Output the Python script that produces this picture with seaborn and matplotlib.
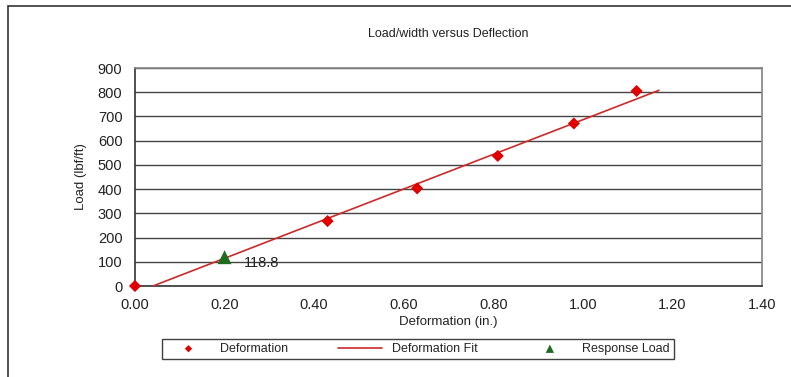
import matplotlib
matplotlib.use("Agg")
import matplotlib.pyplot as plt
import seaborn as sns
import pandas as pd
from matplotlib.patches import Rectangle

# Data
defo_x = [0.00, 0.43, 0.63, 0.81, 0.98, 1.12]
defo_y = [0, 268, 403, 537, 671, 805]
fit_x = [0.04, 1.17]
fit_y = [0, 808]
resp_x = [0.20]
resp_y = [118.8]
resp_label = "118.8"
x_ticks = [0.0, 0.2, 0.4, 0.6, 0.8, 1.0, 1.2, 1.4]
y_ticks = [0, 100, 200, 300, 400, 500, 600, 700, 800, 900]

sns.set_theme(style="white")
plt.rcParams['font.family'] = ['Liberation Sans', 'DejaVu Sans']

fig = plt.figure(figsize=(7.91, 3.77), dpi=100)
ax = fig.add_axes([135/791, 1-286/377, (762-135)/791, (286-68)/377])

# outer frame
fig.patches.append(Rectangle((8/791, -0.05), 1.0, 1-6/377+0.05, transform=fig.transFigure,
                             fill=False, edgecolor="#333333", linewidth=1.2, zorder=0))

ax.set_xlim(0, 1.4)
ax.set_ylim(0, 900)
ax.set_yticks(y_ticks)
ax.set_xticks(x_ticks)
ax.set_xticklabels([f"{v:.2f}" for v in x_ticks])
ax.yaxis.grid(True, color="#444444", linewidth=1.0)
ax.set_axisbelow(True)

sns.lineplot(x=fit_x, y=fit_y, ax=ax, color="#cc2a2a", linewidth=1.2, label="Deformation Fit", zorder=3)
sns.scatterplot(x=defo_x, y=defo_y, ax=ax, marker="D", color="#e00000", s=38, edgecolor="none",
                label="Deformation", zorder=4, clip_on=False)
sns.scatterplot(x=resp_x, y=resp_y, ax=ax, marker="^", color="#1f6b1f", s=100, edgecolor="none",
                label="Response Load", zorder=5)
ax.annotate(resp_label, (resp_x[0], resp_y[0]), xytext=(14, -4), textcoords="offset points",
            fontsize=10.5, color="#222222", va="center")

for s in ["top", "right"]:
    ax.spines[s].set_color("#888888")
for s in ["left", "bottom"]:
    ax.spines[s].set_color("#333333")
    ax.spines[s].set_linewidth(1.2)
ax.tick_params(axis="x", direction="inout", length=5, color="#333333", labelsize=10.5, pad=6)
ax.tick_params(axis="y", length=0, labelsize=10.5, pad=9)
for lbl in ax.get_xticklabels() + ax.get_yticklabels():
    lbl.set_color("#222222")

ax.set_title("Load/width versus Deflection", fontsize=9, color="#222222", pad=22)
ax.set_xlabel("Deformation (in.)", fontsize=9.5, color="#222222", labelpad=3)
ax.set_ylabel("Load (lbf/ft)", fontsize=9.5, color="#222222", labelpad=8)

handles, labels = ax.get_legend_handles_labels()
order = [labels.index("Deformation"), labels.index("Deformation Fit"), labels.index("Response Load")]
leg = fig.legend([handles[i] for i in order], [labels[i] for i in order], ncol=3,
                 loc="center", bbox_to_anchor=(418/791, 1-349/377), fontsize=9,
                 frameon=True, fancybox=False, edgecolor="#111111", borderpad=0.35,
                 columnspacing=4.0, handlelength=3.5, handletextpad=0.8, markerscale=0.6)
leg.get_frame().set_linewidth(1.0)
if ax.get_legend():
    ax.get_legend().remove()

fig.savefig("out.png", dpi=100)
